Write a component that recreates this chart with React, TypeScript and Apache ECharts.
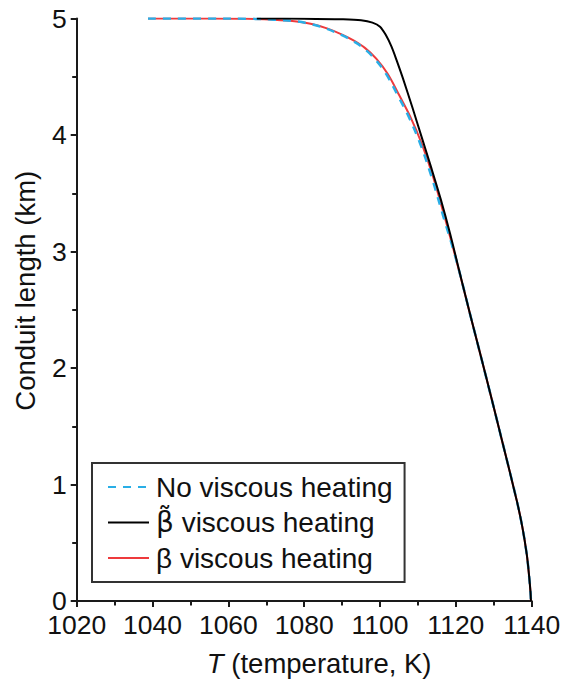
import React, { useEffect, useRef } from "react";
import * as echarts from "echarts";

// Temperature (K) and conduit length (km)
const tempNoHeating = [1038.8, 1055, 1065, 1072, 1078, 1081.8, 1085.7, 1089.6, 1092.6, 1095.6, 1098.6, 1101.6, 1104.6, 1107.6, 1110.6, 1113.6, 1116.7, 1120, 1124, 1128, 1132, 1136, 1137.5, 1138.7, 1139.3, 1139.7, 1139.8];
const lenNoHeating = [5.0, 5.0, 4.998, 4.99, 4.975, 4.952, 4.915, 4.862, 4.812, 4.748, 4.655, 4.525, 4.345, 4.155, 3.925, 3.64, 3.3, 2.94, 2.43, 1.92, 1.4, 0.87, 0.64, 0.4, 0.22, 0.07, 0.0];

const tempBetaTilde = [1067.5, 1080, 1090, 1095, 1098, 1100, 1101.5, 1103, 1104.5, 1106, 1108.5, 1111, 1113.5, 1116, 1118.5, 1121, 1124, 1128, 1132, 1136, 1137.5, 1138.7, 1139.3, 1139.7, 1139.8];
const lenBetaTilde = [5.0, 4.998, 4.993, 4.985, 4.965, 4.93, 4.86, 4.76, 4.63, 4.49, 4.24, 3.98, 3.72, 3.45, 3.15, 2.82, 2.43, 1.92, 1.4, 0.87, 0.64, 0.4, 0.22, 0.07, 0.0];

const tempBeta = [1038.8, 1055, 1065, 1072, 1078, 1082, 1086, 1090, 1093, 1096, 1099, 1102, 1105, 1108, 1111, 1114, 1117, 1120, 1124, 1128, 1132, 1136, 1137.5, 1138.7, 1139.3, 1139.7, 1139.8];
const lenBeta = [5.0, 5.0, 4.998, 4.99, 4.975, 4.952, 4.915, 4.862, 4.812, 4.748, 4.655, 4.525, 4.345, 4.155, 3.925, 3.64, 3.3, 2.94, 2.43, 1.92, 1.4, 0.87, 0.64, 0.4, 0.22, 0.07, 0.0];

const seriesNames = ["No viscous heating", "\u03B2\u0303 viscous heating", "\u03B2 viscous heating"];
const xTicks = { min: 1020, max: 1140, interval: 20 };
const yTicks = { min: 0, max: 5, interval: 1 };

const zip = (xs: number[], ys: number[]) => xs.map((x, i) => [x, ys[i]]);

const FONT = "'Liberation Sans', Arial, sans-serif";
const AX = "#1a1a1a";

export default function App() {
  const ref = useRef<HTMLDivElement>(null);
  useEffect(() => {
    if (!ref.current) return;
    const chart = echarts.init(ref.current, undefined, { renderer: "svg" });
    chart.setOption({
      animation: false,
      textStyle: { fontFamily: FONT },
      grid: { left: 76.7, right: 35.3, top: 18.5, bottom: 82 },
      xAxis: {
        type: "value",
        min: xTicks.min,
        max: xTicks.max,
        interval: xTicks.interval,
        name: "{i|T} (temperature, K)",
        nameLocation: "middle",
        nameGap: 48,
        nameTextStyle: {
          fontSize: 27.5,
          color: "#111",
          fontFamily: FONT,
          padding: [0, 0, 0, 30],
          rich: { i: { fontStyle: "italic", fontSize: 27.5, color: "#111", fontFamily: FONT } },
        },
        axisLine: { show: true, lineStyle: { color: AX, width: 2 } },
        axisTick: { show: true, length: 6, lineStyle: { color: AX, width: 2 } },
        minorTick: { show: true, splitNumber: 2, length: 4.5, lineStyle: { color: AX, width: 2 } },
        splitLine: { show: false },
        axisLabel: {
          fontSize: 26.5,
          color: "#111",
          margin: 13,
          lineHeight: 22,
          fontFamily: FONT,
          formatter: (v: number) => String(v),
        },
      },
      yAxis: {
        type: "value",
        min: yTicks.min,
        max: yTicks.max,
        interval: yTicks.interval,
        name: "Conduit length (km)",
        nameLocation: "middle",
        nameGap: 37,
        nameTextStyle: { fontSize: 27.5, color: "#111", fontFamily: FONT, padding: [0, 0, 0, 38] },
        axisLine: { show: true, lineStyle: { color: AX, width: 2 } },
        axisTick: { show: true, length: 6, lineStyle: { color: AX, width: 2 } },
        minorTick: { show: true, splitNumber: 2, length: 4.5, lineStyle: { color: AX, width: 2 } },
        splitLine: { show: false },
        axisLabel: {
          fontSize: 26.5,
          color: "#111",
          margin: 10,
          lineHeight: 18,
          padding: [0, 0, 5, 0],
          fontFamily: FONT,
          formatter: (v: number) => String(v),
        },
      },
      legend: {
        data: seriesNames,
        orient: "vertical",
        left: 92,
        top: 463,
        padding: [10, 12, 10, 15],
        itemWidth: 41,
        itemHeight: 2,
        itemGap: 7.5,
        borderColor: "#333",
        borderWidth: 2,
        borderRadius: 0,
        backgroundColor: "#fff",
        itemStyle: { opacity: 0 },
        formatter: (name: string) =>
          name === seriesNames[1] ? "{g|\u03B2\u0303} viscous heating" : name,
        textStyle: {
          fontSize: 28,
          color: "#111",
          lineHeight: 28,
          fontFamily: FONT,
          padding: [0, 0, 0, 2],
          rich: {
            g: { fontSize: 28, lineHeight: 28, color: "#111", fontFamily: "'DejaVu Sans', sans-serif" },
          },
        },
      },
      series: [
        {
          name: seriesNames[2],
          type: "line",
          symbol: "none",
          smooth: 0.35,
          lineStyle: { color: "#ee3a3c", width: 2 },
          itemStyle: { color: "#ee3a3c" },
          data: zip(tempBeta, lenBeta),
          z: 2,
        },
        {
          name: seriesNames[0],
          type: "line",
          symbol: "none",
          smooth: 0.35,
          lineStyle: { color: "#29aee6", width: 2.5, type: [8, 7] },
          itemStyle: { color: "#29aee6" },
          data: zip(tempNoHeating, lenNoHeating),
          z: 3,
        },
        {
          name: seriesNames[1],
          type: "line",
          symbol: "none",
          smooth: 0.3,
          lineStyle: { color: "#000", width: 2 },
          itemStyle: { color: "#000" },
          data: zip(tempBetaTilde, lenBetaTilde),
          z: 4,
        },
      ],
    });
    return () => chart.dispose();
  }, []);
  return (
    <div
      ref={ref}
      style={{ position: "absolute", left: 0, top: 0, width: 567, height: 683, background: "#fff" }}
    />
  );
}
